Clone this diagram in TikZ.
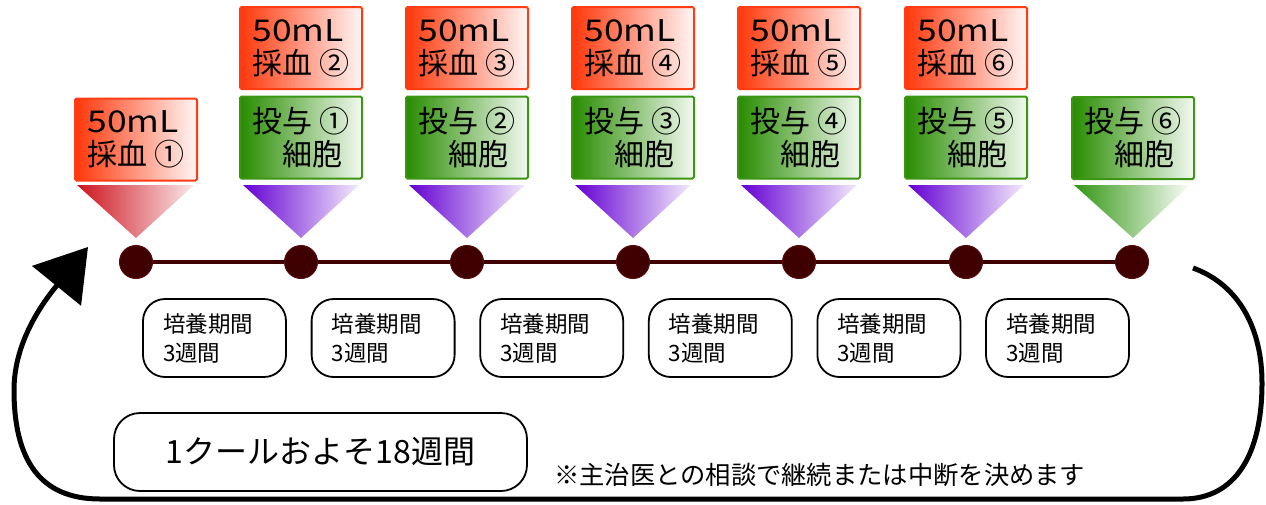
\documentclass[tikz,border=0pt]{standalone}
\usepackage{fontspec}
\setmainfont{Noto Sans CJK JP}
\usetikzlibrary{arrows.meta}
\definecolor{redL}{RGB}{255,55,10}
\definecolor{redR}{RGB}{255,246,246}
\definecolor{redD}{RGB}{255,60,20}
\definecolor{greenL}{RGB}{40,140,0}
\definecolor{greenR}{RGB}{242,249,240}
\definecolor{greenD}{RGB}{60,150,20}
\definecolor{triRedL}{RGB}{205,20,30}
\definecolor{triRedR}{RGB}{250,232,234}
\definecolor{triPurL}{RGB}{100,0,210}
\definecolor{triPurR}{RGB}{243,234,252}
\definecolor{triGrnL}{RGB}{50,150,20}
\definecolor{triGrnR}{RGB}{250,253,248}
\definecolor{dotc}{RGB}{62,0,0}
\definecolor{dotd}{RGB}{90,10,10}
\begin{document}
\begin{tikzpicture}[x=1pt,y=-1pt,
  box/.style={line width=2pt, rounded corners=1.5pt, minimum width=122pt, minimum height=82pt,
    inner xsep=4pt, inner ysep=0pt, align=left,
    font=\fontsize{30}{33}\selectfont},
  bloodbox/.style={box, draw=redD, left color=redL, right color=redR},
  dosebox/.style={box, draw=greenD, left color=greenL, right color=greenR},
  dotnode/.style={circle, fill=dotc, draw=dotd, line width=1pt, minimum size=33pt, inner sep=0pt},
  culture/.style={draw, line width=1.8pt, rounded corners=22pt, minimum width=143pt, minimum height=78pt,
    text width=103pt, inner xsep=20pt, inner ysep=0pt, align=left,
    font=\fontsize{22.5}{29}\selectfont},
  cyclebox/.style={draw, line width=1.8pt, rounded corners=26pt, minimum width=413pt, minimum height=78pt,
    font=\fontsize{32}{36}\selectfont},
  notetext/.style={inner sep=0pt, anchor=west, font=\fontsize{25.3}{28}\selectfont},
  cyclearrow/.style={line width=5pt, -{Triangle[length=50pt,width=62pt]}}
]
\useasboundingbox (0,0) rectangle (1266,504);
\fill[white] (0,0) rectangle (1266,504);

% timeline positions
\coordinate (c1) at (136,262);
\coordinate (c2) at (301,262);
\coordinate (c3) at (467,262);
\coordinate (c4) at (633,262);
\coordinate (c5) at (799,262);
\coordinate (c6) at (966,262);
\coordinate (c7) at (1132,262);

% pointer triangles
\shade[left color=triRedL, right color=triRedR] (77,185) -- (194,185) -- (136,238) -- cycle;
\foreach \x in {301,467,633,799,966}{
  \shade[left color=triPurL, right color=triPurR] (\x-58,185) -- (\x+58,185) -- (\x,238) -- cycle;
}
\shade[left color=triGrnL, right color=triGrnR] (1074,185) -- (1190,185) -- (1133,238) -- cycle;

% timeline line and dots
\draw[line width=4pt, dotc] (c1) -- (c7);
\foreach \i in {1,...,7}{ \node[dotnode] (d\i) at (c\i) {}; }

% blood sampling boxes
\node[bloodbox] (b1) at (136,139.5) {\scalebox{1.18}[1]{50mL}\\採血 ①};
\node[bloodbox] (b2) at (301,48) {\scalebox{1.18}[1]{50mL}\\採血 ②};
\node[bloodbox] (b3) at (467,48) {\scalebox{1.18}[1]{50mL}\\採血 ③};
\node[bloodbox] (b4) at (633,48) {\scalebox{1.18}[1]{50mL}\\採血 ④};
\node[bloodbox] (b5) at (799,48) {\scalebox{1.18}[1]{50mL}\\採血 ⑤};
\node[bloodbox] (b6) at (966,48) {\scalebox{1.18}[1]{50mL}\\採血 ⑥};

% dosing boxes
\node[dosebox] (g1) at (301,137.5) {投与 ①\\\hspace*{30pt}細胞};
\node[dosebox] (g2) at (467,137.5) {投与 ②\\\hspace*{30pt}細胞};
\node[dosebox] (g3) at (633,137.5) {投与 ③\\\hspace*{30pt}細胞};
\node[dosebox] (g4) at (799,137.5) {投与 ④\\\hspace*{30pt}細胞};
\node[dosebox] (g5) at (966,137.5) {投与 ⑤\\\hspace*{30pt}細胞};
\node[dosebox] (g6) at (1133,138) {投与 ⑥\\\hspace*{30pt}細胞};

% culture period boxes
\node[culture] (k1) at (214.5,338) {培養期間\\3週間};
\node[culture] (k2) at (383.1,338) {培養期間\\3週間};
\node[culture] (k3) at (551.7,338) {培養期間\\3週間};
\node[culture] (k4) at (720.3,338) {培養期間\\3週間};
\node[culture] (k5) at (888.9,338) {培養期間\\3週間};
\node[culture] (k6) at (1057.5,338) {培養期間\\3週間};

% cycle box and note
\node[cyclebox] (cy) at (320.5,452) {1クールおよそ18週間};
\node[notetext] (nt) at (554,475) {※主治医との相談で継続または中断を決めます};

% cycle arrow
\coordinate (as) at (1193,268);
\coordinate (ae) at (88,247);
\draw[cyclearrow] (as) .. controls (1240,285) and (1262,330) .. (1262,383)
  .. controls (1262,455) and (1235,499) .. (1183,499) -- (100,499)
  .. controls (40,499) and (14,460) .. (14,390)
  .. controls (14,340) and (45,300) .. (ae);
\end{tikzpicture}
\end{document}
